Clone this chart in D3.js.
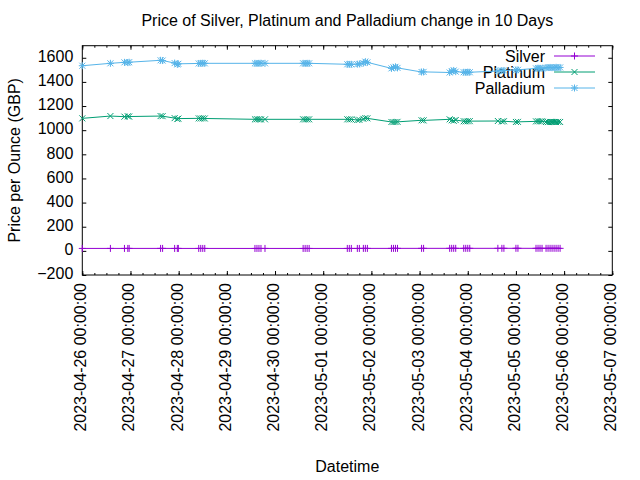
<!DOCTYPE html>
<html>
<head>
<meta charset="utf-8">
<script src="https://cdn.jsdelivr.net/npm/d3@7"></script>
<style>
  body { margin: 0; background: #fff; }
  svg { font-family: "Liberation Sans", Arial, sans-serif; font-size: 16px; }
</style>
</head>
<body>
<svg id="chart" width="640" height="480"></svg>
<script>
// Sample times (UTC) and prices per ounce in GBP
const times = [
  "2023-04-26 00:00", "2023-04-26 14:00", "2023-04-26 21:00", "2023-04-26 22:40", "2023-04-26 23:20",
  "2023-04-27 15:00", "2023-04-27 16:00", "2023-04-27 22:00", "2023-04-27 23:20", "2023-04-27 23:50",
  "2023-04-28 10:00", "2023-04-28 11:00", "2023-04-28 12:00", "2023-04-28 13:00",
  "2023-04-29 14:00", "2023-04-29 15:00", "2023-04-29 16:00", "2023-04-29 17:00", "2023-04-29 19:00",
  "2023-04-30 14:00", "2023-04-30 15:00", "2023-04-30 16:00", "2023-04-30 17:00",
  "2023-05-01 12:00", "2023-05-01 13:00", "2023-05-01 14:00", "2023-05-01 17:00", "2023-05-01 18:00",
  "2023-05-01 20:00", "2023-05-01 21:00", "2023-05-01 22:00",
  "2023-05-02 10:00", "2023-05-02 11:00", "2023-05-02 12:00", "2023-05-02 13:00",
  "2023-05-03 01:00", "2023-05-03 02:00",
  "2023-05-03 15:00", "2023-05-03 16:00", "2023-05-03 17:00", "2023-05-03 18:00",
  "2023-05-03 22:00", "2023-05-03 23:00", "2023-05-04 00:00", "2023-05-04 01:00",
  "2023-05-04 15:00", "2023-05-04 17:00", "2023-05-04 18:00",
  "2023-05-05 00:00", "2023-05-05 01:00",
  "2023-05-05 10:00", "2023-05-05 11:00", "2023-05-05 12:00", "2023-05-05 13:00",
  "2023-05-05 15:00", "2023-05-05 16:00", "2023-05-05 17:00", "2023-05-05 18:00",
  "2023-05-05 19:00", "2023-05-05 20:00", "2023-05-05 21:00", "2023-05-05 22:00"
];

const silver = [
  20.1, 20.3, 20.2, 20.2, 20.3,
  20.4, 20.4, 20.2, 20.1, 20.2,
  20.2, 20.3, 20.2, 20.2,
  20.0, 20.1, 20.0, 20.0, 20.1,
  20.0, 20.0, 20.1, 20.0,
  20.1, 20.0, 20.1, 20.2, 20.2,
  20.4, 20.5, 20.4,
  20.6, 20.7, 20.6, 20.7,
  20.8, 20.8,
  20.9, 21.0, 20.9, 21.0,
  20.9, 20.9, 21.0, 21.0,
  21.1, 21.0, 21.1,
  21.2, 21.2,
  21.0, 21.1, 21.1, 21.0,
  21.0, 20.9, 21.0, 21.0,
  20.9, 21.0, 21.0, 20.9
];

const platinum = [
  1098, 1117, 1112, 1115, 1113,
  1117, 1116, 1100, 1092, 1096,
  1098, 1097, 1098, 1097,
  1090, 1091, 1090, 1089, 1090,
  1090, 1089, 1090, 1090,
  1090, 1089, 1090, 1084, 1086,
  1094, 1100, 1098,
  1068, 1067, 1068, 1069,
  1082, 1081,
  1090, 1082, 1078, 1084,
  1074, 1073, 1074, 1075,
  1076, 1072, 1074,
  1068, 1069,
  1073, 1074, 1073, 1074,
  1068, 1067, 1069, 1068, 1068, 1067, 1069, 1068
];

const palladium = [
  1534, 1554, 1562, 1560, 1563,
  1579, 1577, 1556, 1545, 1550,
  1553, 1554, 1555, 1554,
  1554, 1553, 1554, 1555, 1554,
  1554, 1553, 1554, 1554,
  1546, 1545, 1546, 1547, 1549,
  1556, 1568, 1562,
  1512, 1520, 1525, 1516,
  1482, 1483,
  1478, 1490, 1495, 1485,
  1480, 1479, 1481, 1480,
  1490, 1494, 1495,
  1499, 1500,
  1512, 1514, 1513, 1512,
  1518, 1519, 1520, 1518, 1519, 1521, 1518, 1520
];

const seriesNames = ["Silver", "Platinum", "Palladium"];
const seriesColors = ["#9400d3", "#009e73", "#56b4e9"];
const yTicks = [-200, 0, 200, 400, 600, 800, 1000, 1200, 1400, 1600];
const xStart = "2023-04-26 00:00";
const xEnd = "2023-05-07 00:00";

const parse = d3.utcParse("%Y-%m-%d %H:%M");
const dates = times.map(parse);
const allSeries = [silver, platinum, palladium];

const plotLeft = 82.3, plotRight = 612.3, plotTop = 45.7, plotBottom = 275;

const x = d3.scaleUtc().domain([parse(xStart), parse(xEnd)]).range([plotLeft, plotRight]);
const y = d3.scaleLinear().domain([-200, 1700]).range([plotBottom, plotTop]);

const svg = d3.select("#chart");

// Axes, ticks point inward like gnuplot
const xMajor = d3.utcDay.every(1);
const xMinor = d3.utcHour.every(6);

const gBottom = svg.append("g")
    .attr("transform", `translate(0,${plotBottom})`)
    .call(d3.axisBottom(x).ticks(xMajor).tickSizeInner(-4).tickSizeOuter(0)
        .tickFormat(d3.utcFormat("%Y-%m-%d %H:%M:%S")));
gBottom.selectAll("text")
    .attr("transform", "rotate(-90)")
    .attr("text-anchor", "end")
    .attr("x", -8)
    .attr("y", 3.5)
    .attr("dy", null);

svg.append("g")
    .attr("transform", `translate(0,${plotBottom})`)
    .call(d3.axisBottom(x).ticks(xMinor).tickSizeInner(-2).tickSizeOuter(0).tickFormat(""));

svg.append("g")
    .attr("transform", `translate(0,${plotTop})`)
    .call(d3.axisTop(x).ticks(xMajor).tickSizeInner(-4).tickSizeOuter(0).tickFormat(""));
svg.append("g")
    .attr("transform", `translate(0,${plotTop})`)
    .call(d3.axisTop(x).ticks(xMinor).tickSizeInner(-2).tickSizeOuter(0).tickFormat(""));

const gLeft = svg.append("g")
    .attr("transform", `translate(${plotLeft},0)`)
    .call(d3.axisLeft(y).tickValues(yTicks).tickFormat(d3.format("d"))
        .tickSizeInner(-4).tickSizeOuter(0).tickPadding(9));
gLeft.selectAll("text").attr("dy", "0.23em");

svg.append("g")
    .attr("transform", `translate(${plotRight},0)`)
    .call(d3.axisRight(y).tickValues(yTicks).tickSizeInner(-4).tickSizeOuter(0).tickFormat(""));

svg.selectAll(".domain").remove();
svg.selectAll(".tick line").attr("stroke", "#000");
svg.selectAll(".tick text").attr("fill", "#000").style("font-size", "16px")
    .style("font-family", "'Liberation Sans', Arial, sans-serif");

// Border
svg.append("rect")
    .attr("x", plotLeft).attr("y", plotTop)
    .attr("width", plotRight - plotLeft).attr("height", plotBottom - plotTop)
    .attr("fill", "none").attr("stroke", "#000").attr("stroke-width", 1);

// Marker shapes: +, x, *
const markers = [
    "M-3.5,0H3.5M0,-3.5V3.5",
    "M-3,-3L3,3M-3,3L3,-3",
    "M-3.5,0H3.5M0,-3.5V3.5M-3,-3L3,3M-3,3L3,-3"
];

const line = d3.line()
    .x(d => x(d[0]))
    .y(d => y(d[1]));

const keyTextX = 545, keyLineX0 = 554, keyLineX1 = 595, keyY0 = 56, keyStep = 16;

allSeries.forEach((vals, i) => {
    const pts = dates.map((d, j) => [d, vals[j]]);
    const ky = keyY0 + i * keyStep;

    // key entry first, then the data (gnuplot order)
    svg.append("text")
        .attr("x", keyTextX).attr("y", ky).attr("dy", "0.35em")
        .attr("text-anchor", "end").attr("fill", "#000")
        .text(seriesNames[i]);
    svg.append("line")
        .attr("x1", keyLineX0).attr("x2", keyLineX1)
        .attr("y1", ky).attr("y2", ky)
        .attr("stroke", seriesColors[i]).attr("stroke-width", 1);
    svg.append("path")
        .attr("d", markers[i])
        .attr("transform", `translate(${(keyLineX0 + keyLineX1) / 2},${ky})`)
        .attr("fill", "none").attr("stroke", seriesColors[i]).attr("stroke-width", 1);

    svg.append("path")
        .datum(pts)
        .attr("d", line)
        .attr("fill", "none")
        .attr("stroke", seriesColors[i])
        .attr("stroke-width", 1);

    svg.append("g").selectAll("path")
        .data(pts)
        .enter()
        .append("path")
        .attr("d", markers[i])
        .attr("transform", d => `translate(${x(d[0])},${y(d[1])})`)
        .attr("fill", "none")
        .attr("stroke", seriesColors[i])
        .attr("stroke-width", 1);
});

// Titles
svg.append("text")
    .attr("x", (plotLeft + plotRight) / 2).attr("y", 26)
    .attr("text-anchor", "middle").attr("fill", "#000")
    .text("Price of Silver, Platinum and Palladium change in 10 Days");

svg.append("text")
    .attr("x", (plotLeft + plotRight) / 2).attr("y", 472)
    .attr("text-anchor", "middle").attr("fill", "#000")
    .text("Datetime");

svg.append("text")
    .attr("transform", `translate(20,${(plotTop + plotBottom) / 2}) rotate(-90)`)
    .attr("text-anchor", "middle").attr("fill", "#000")
    .text("Price per Ounce (GBP)");
</script>
</body>
</html>
